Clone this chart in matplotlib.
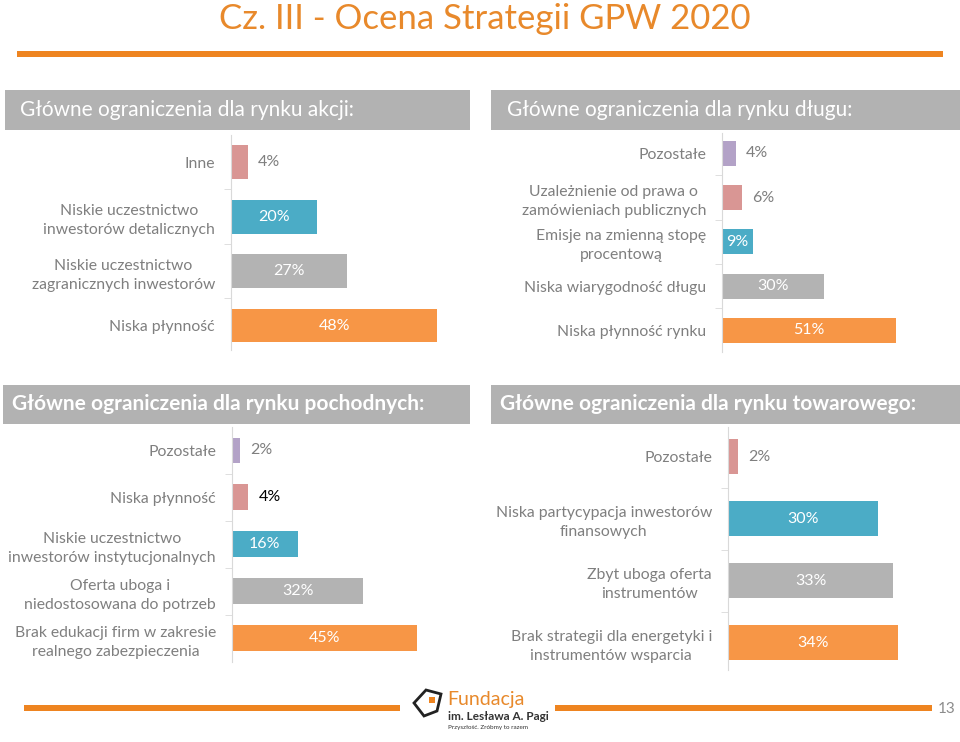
import numpy as np
import matplotlib
matplotlib.use("Agg")
import matplotlib.pyplot as plt
from matplotlib.patches import Rectangle, Polygon

plt.rcParams['font.family'] = ['Lato', 'DejaVu Sans']

ORANGE = '#F79646'
BLUE = '#4BACC6'
GRAY = '#B3B3B3'
PINK = '#D99694'
PURPLE = '#B3A2C7'
TXT = '#7f7f7f'

# rynek akcji
akcje_labels = ["Inne", "Niskie uczestnictwo\ninwestorów detalicznych",
                "Niskie uczestnictwo\nzagranicznych inwestorów", "Niska płynność"]
akcje_values = [4, 20, 27, 48]
akcje_colors = [PINK, BLUE, GRAY, ORANGE]

# rynek dlugu
dlug_labels = ["Pozostałe", "Uzależnienie od prawa o\nzamówieniach publicznych",
               "Emisje na zmienną stopę\nprocentową", "Niska wiarygodność długu",
               "Niska płynność rynku"]
dlug_values = [4, 6, 9, 30, 51]
dlug_colors = [PURPLE, PINK, BLUE, GRAY, ORANGE]

# rynek pochodnych
poch_labels = ["Pozostałe", "Niska płynność",
               "Niskie uczestnictwo\ninwestorów instytucjonalnych",
               "Oferta uboga i\nniedostosowana do potrzeb",
               "Brak edukacji firm w zakresie\nrealnego zabezpieczenia"]
poch_values = [2, 4, 16, 32, 45]
poch_colors = [PURPLE, PINK, BLUE, GRAY, ORANGE]

# rynek towarowy
tow_labels = ["Pozostałe", "Niska partycypacja inwestorów\nfinansowych",
              "Zbyt uboga oferta\ninstrumentów",
              "Brak strategii dla energetyki i\ninstrumentów wsparcia"]
tow_values = [2, 30, 33, 34]
tow_colors = [PINK, BLUE, GRAY, ORANGE]

W, H = 960, 742
fig = plt.figure(figsize=(9.6, 7.42), dpi=100)

bg = fig.add_axes([0, 0, 1, 1])
bg.set_xlim(0, W)
bg.set_ylim(H, 0)
bg.axis('off')


def panel(box, labels, values, colors, xmax, ylim, bar_h, dark_out=()):
    x0, top, x1, bottom = box
    ax = fig.add_axes([x0 / W, 1 - bottom / H, (x1 - x0) / W, (bottom - top) / H])
    y = np.arange(len(values))
    ax.barh(y, values, height=bar_h, color=colors)
    ax.set_xlim(0, xmax)
    ax.set_ylim(*ylim)
    ax.set_yticks(y)
    ax.set_yticklabels(labels)
    for t in ax.get_yticklabels():
        t.set_multialignment('center')
        t.set_linespacing(1.45)
    ax.set_yticks(np.arange(0.5, len(values) - 1, 1), minor=True)
    ax.tick_params(axis='y', which='major', length=0, pad=11.5,
                   labelsize=11.3, labelcolor=TXT)
    ax.tick_params(axis='y', which='minor', length=5, color='#d9d9d9')
    ax.set_xticks([])
    for s in ['top', 'right', 'bottom']:
        ax.spines[s].set_visible(False)
    ax.spines['left'].set_color('#d9d9d9')
    ax.patch.set_alpha(0)
    px = (x1 - x0) / xmax
    for i, v in enumerate(values):
        if v * px >= 27:
            ax.text(v / 2, i, f"{v}%", ha='center', va='center',
                    fontsize=11.5, color='white')
        else:
            ax.text(v + 10 / px, i, f"{v}%", ha='left', va='center',
                    fontsize=11.5, color='black' if i in dark_out else TXT)
    return ax


panel((231, 135, 470, 350), akcje_labels, akcje_values, akcje_colors,
      55.6, (3.45, -0.5), 0.62)
panel((722, 133, 960, 352), dlug_labels, dlug_values, dlug_colors,
      69.8, (4.49, -0.46), 0.565)
panel((232, 427, 470, 662), poch_labels, poch_values, poch_colors,
      58.0, (4.51, -0.5), 0.55, dark_out=(1,))
panel((728, 427, 960, 670), tow_labels, tow_values, tow_colors,
      46.4, (3.44, -0.48), 0.565)

# title and decorations
bg.text(485, 29, "Cz. III - Ocena Strategii GPW 2020", ha='center', va='baseline',
        fontsize=25, color='#E8892B')
bg.add_patch(Rectangle((17, 51), 926, 6, color='#EE8420', lw=0))

HDR = '#B2B2B2'
headers = [((5, 90, 465, 40), (20, 110), "Główne ograniczenia dla rynku akcji:", 'normal'),
           ((491, 90, 469, 40), (507, 110), "Główne ograniczenia dla rynku długu:", 'normal'),
           ((3, 385, 467, 39), (12, 404), "Główne ograniczenia dla rynku pochodnych:", 'bold'),
           ((491, 385, 469, 39), (500, 404), "Główne ograniczenia dla rynku towarowego:", 'bold')]
for (x, y, w, h), (tx, ty), txt, wt in headers:
    bg.add_patch(Rectangle((x, y), w, h, color=HDR, lw=0))
    bg.text(tx, ty, txt, ha='left', va='center', fontsize=15,
            color='white', fontweight=wt)

# footer
bg.add_patch(Rectangle((24, 705), 376, 6, color='#EE8420', lw=0))
bg.add_patch(Rectangle((555, 705), 377, 6, color='#EE8420', lw=0))
bg.text(947, 709, "13", ha='center', va='center', fontsize=11, color='#8c8c8c')
bg.add_patch(Polygon([(414, 703), (426, 690), (441, 694), (437, 711), (424, 716)],
                     closed=True, fill=False, ec='#222222', lw=2))
bg.add_patch(Rectangle((429, 697), 6, 6, color='#EE8420', lw=0))
bg.text(447, 699, "Fundacja", ha='left', va='center', fontsize=14, color='#E8892B')
bg.text(448, 716, "im. Lesława A. Pagi", ha='left', va='center', fontsize=8.5,
        color='#333333', fontweight='bold')
bg.text(448, 728, "Przyszłość. Zróbmy to razem", ha='left', va='center',
        fontsize=4.5, color='#333333')

fig.savefig("out.png", dpi=100)
